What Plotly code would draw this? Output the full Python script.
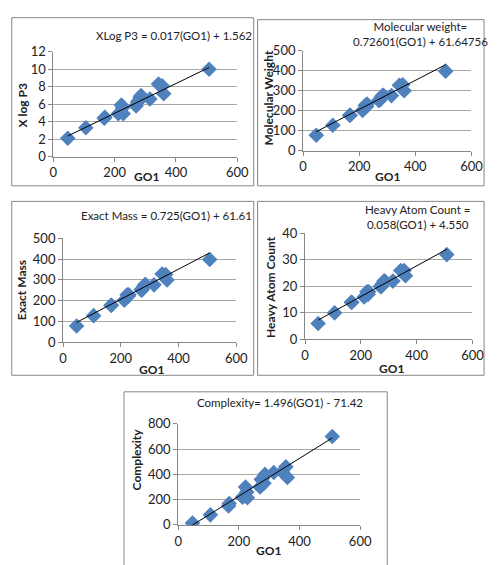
import plotly.graph_objects as go

W, H = 498, 565

go1 = [47, 106, 166, 168, 212, 222, 226, 228, 270, 274, 278, 283, 286, 315, 343, 355, 360, 508]
xlogp3 = [2.1, 3.3, 4.4, 4.5, 4.9, 5.9, 5.6, 4.9, 5.8, 6.2, 6.4, 6.8, 7.0, 6.6, 8.3, 8.1, 7.2, 10.0]
mol_weight = [78, 128, 178, 178, 202, 228, 222, 234, 252, 254, 266, 276, 278, 276, 328, 330, 300, 398]
exact_mass = [78, 128, 178, 178, 202, 228, 222, 228, 252, 252, 266, 276, 278, 276, 328, 326, 300, 398]
heavy_atoms = [6, 10, 14, 14, 16, 18, 17, 18, 20, 20, 21, 22, 22, 22, 26, 26, 24, 32]
complexity = [15, 80, 150, 170, 220, 300, 260, 215, 300, 360, 370, 330, 400, 415, 420, 460, 375, 700]

# trend equations (slope, intercept) as printed on the chart
fits = {
    "xlogp3": (0.017, 1.562),
    "mw": (0.72601, 61.64756),
    "em": (0.725, 61.61),
    "hac": (0.058, 4.550),
    "cx": (1.496, -71.42),
}

panels = [
    dict(key="xlogp3", y=xlogp3, yt="X log P3", yr=[0, 12], dt=2,
         plot=(51, 241, 45, 153), frame=(8, 258, 10, 183),
         eq="XLog P3 = 0.017(GO1) + 1.562", eqpos=(176, 28),
         ytp=(19, 100), xtp=(147, 173)),
    dict(key="mw", y=mol_weight, yt="Molecular Weight", yr=[0, 500], dt=100,
         plot=(309, 483, 44, 147), frame=(262, 496, 12, 183),
         eq="Molecular weight=<br>0.72601(GO1) + 61.64756", eqpos=(430, 27),
         ytp=(273, 93), xtp=(396, 173)),
    dict(key="em", y=exact_mass, yt="Exact Mass", yr=[0, 500], dt=100,
         plot=(61, 240, 237, 344), frame=(8, 258, 199, 378),
         eq="Exact Mass = 0.725(GO1) + 61.61", eqpos=(168, 214),
         ytp=(18, 290), xtp=(152, 372)),
    dict(key="hac", y=heavy_atoms, yt="Heavy Atom Count", yr=[0, 40], dt=10,
         plot=(311, 484, 232, 341), frame=(262, 496, 199, 378),
         eq="Heavy Atom Count =<br>0.058(GO1) + 4.550", eqpos=(427, 215),
         ytp=(276, 287), xtp=(400, 371)),
    dict(key="cx", y=complexity, yt="Complexity", yr=[0, 800], dt=200,
         plot=(180, 368, 428, 532), frame=(124, 396, 395, 575),
         eq="Complexity= 1.496(GO1) - 71.42", eqpos=(285, 406),
         ytp=(137, 465), xtp=(273, 558)),
]

FONT = "Lato, 'Liberation Sans', sans-serif"
blue = "#4F81BD"
fig = go.Figure()
shapes, annots = [], []

def px2x(v):
    return v / W

def px2y(v):
    return 1 - v / H

for i, p in enumerate(panels, start=1):
    xa = "x" if i == 1 else f"x{i}"
    ya = "y" if i == 1 else f"y{i}"
    slope, icpt = fits[p["key"]]
    fig.add_trace(go.Scatter(x=go1, y=p["y"], mode="markers", xaxis=xa, yaxis=ya,
                             marker=dict(symbol="diamond", size=12, color=blue,
                                         line=dict(width=0)),
                             showlegend=False))
    xs = [min(go1), max(go1)]
    fig.add_trace(go.Scatter(x=xs, y=[slope * v + icpt for v in xs], mode="lines",
                             xaxis=xa, yaxis=ya, line=dict(color="black", width=1),
                             showlegend=False))
    x0, x1, y0, y1 = p["plot"]
    common = dict(showline=True, linecolor="#868686", linewidth=1, ticks="outside",
                  ticklen=4, tickcolor="#868686", zeroline=False,
                  tickfont=dict(family=FONT, size=13, color="#222"))
    fig.layout[xa.replace("x", "xaxis")] = dict(
        domain=[px2x(x0), px2x(x1)], anchor=ya, range=[0, 600], dtick=200,
        showgrid=False, **common)
    fig.layout[ya.replace("y", "yaxis")] = dict(
        domain=[px2y(y1), px2y(y0)], anchor=xa, range=p["yr"], dtick=p["dt"],
        showgrid=True, gridcolor="#a6a6a6", gridwidth=1, **common)
    fx0, fx1, fy0, fy1 = p["frame"]
    shapes.append(dict(type="rect", xref="paper", yref="paper",
                       x0=px2x(fx0), x1=px2x(fx1), y0=px2y(fy1), y1=px2y(fy0),
                       line=dict(color="#868686", width=1), fillcolor="rgba(0,0,0,0)",
                       layer="below"))
    annots.append(dict(xref="paper", yref="paper", x=px2x(p["eqpos"][0]),
                       y=px2y(p["eqpos"][1]), text=p["eq"], showarrow=False,
                       xanchor="center", yanchor="middle",
                       font=dict(family=FONT, size=11.5, color="#222"), align="center"))
    annots.append(dict(xref="paper", yref="paper", x=px2x(p["ytp"][0]),
                       y=px2y(p["ytp"][1]), text="<b>" + p["yt"] + "</b>", textangle=-90,
                       showarrow=False, xanchor="center", yanchor="middle",
                       font=dict(family=FONT, size=12, color="#222")))
    annots.append(dict(xref="paper", yref="paper", x=px2x(p["xtp"][0]),
                       y=px2y(p["xtp"][1]), text="<b>GO1</b>", showarrow=False,
                       xanchor="center", yanchor="middle",
                       font=dict(family=FONT, size=12, color="#222")))

fig.update_layout(width=W, height=H, margin=dict(l=0, r=0, t=0, b=0),
                  paper_bgcolor="white", plot_bgcolor="white",
                  shapes=shapes, annotations=annots, showlegend=False)
fig.write_html("out.html")
